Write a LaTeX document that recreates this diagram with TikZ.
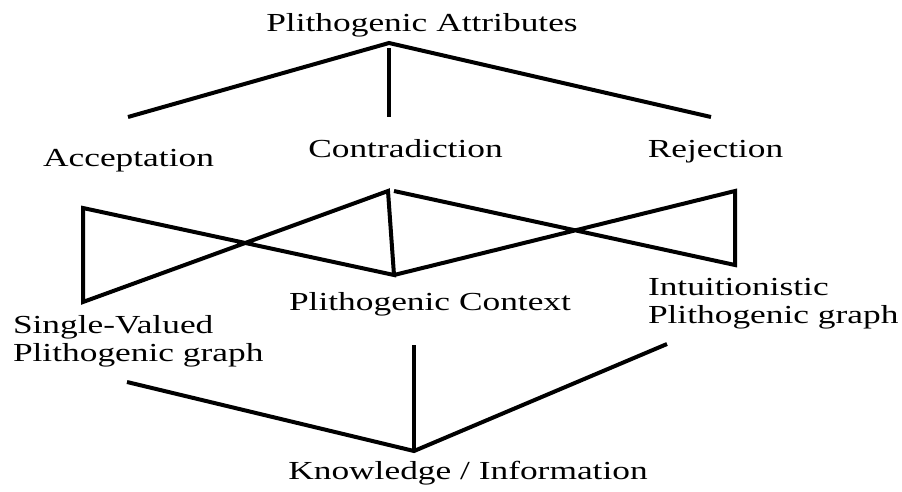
\documentclass[tikz,border=0pt]{standalone}
\usepackage{fontspec}
\setmainfont{Liberation Serif}
\newcommand{\widetext}[1]{\scalebox{1.36}[1]{#1}}
\begin{document}
\begin{tikzpicture}[x=1pt,y=-1pt,
  lbl/.style={inner sep=0pt, outer sep=0pt, font=\fontsize{26}{28}\selectfont},
  conn/.style={line width=4pt, line join=miter}]
\useasboundingbox (0,0) rectangle (902,491);
% labels
\node[lbl, anchor=base] (attr) at (422,31) {\widetext{Plithogenic Attributes}};
\node[lbl, anchor=base] (acc) at (128.5,166) {\widetext{Acceptation}};
\node[lbl, anchor=base] (con) at (405.5,157) {\widetext{Contradiction}};
\node[lbl, anchor=base] (rej) at (715.5,157) {\widetext{Rejection}};
\node[lbl, anchor=base] (ctx) at (430,310) {\widetext{Plithogenic Context}};
\node[lbl, anchor=base west] (svp) at (13,333) {\widetext{\begin{tabular}[t]{@{}l@{}}Single-Valued\\Plithogenic graph\end{tabular}}};
\node[lbl, anchor=base west] (ipg) at (648,295) {\widetext{\begin{tabular}[t]{@{}l@{}}Intuitionistic\\Plithogenic graph\end{tabular}}};
\node[lbl, anchor=base] (know) at (468,479) {\widetext{Knowledge / Information}};
% top fan
\coordinate (top) at (389,43);
\coordinate (topv) at (389,48);
\coordinate (accT) at (128,117);
\coordinate (conT) at (389,117);
\coordinate (rejT) at (711,117);
\draw[conn] (accT) -- (top) -- (rejT);
\draw[conn] (topv) -- (conT);
% middle lattice
\coordinate (LT) at (83,208);
\coordinate (LB) at (83,302);
\coordinate (CT) at (388,191);
\coordinate (CT2) at (394,191);
\coordinate (CB) at (394,275);
\coordinate (RT) at (735,191);
\coordinate (RB) at (735,265);
\draw[conn] (LT) -- (LB) -- (CT) -- (CB) -- cycle;
\draw[conn] (CT2) -- (RB) -- (RT) -- (CB);
% bottom fan
\coordinate (SV) at (127,382);
\coordinate (K) at (414,451);
\coordinate (KV) at (414,345);
\coordinate (IP) at (667,344);
\draw[conn] (SV) -- (K) -- (IP);
\draw[conn] (KV) -- (K);
\end{tikzpicture}
\end{document}
